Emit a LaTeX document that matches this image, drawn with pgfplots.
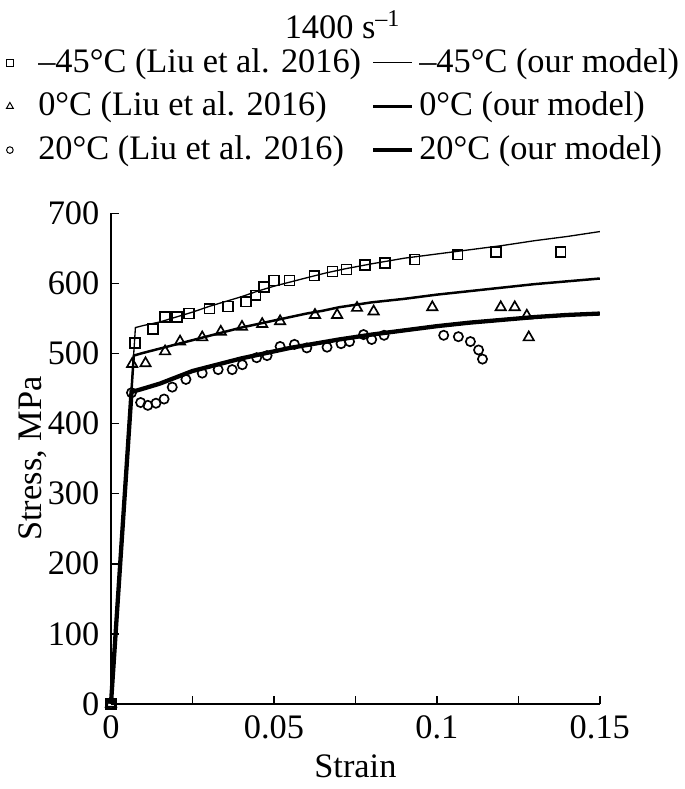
\documentclass[border=0pt]{standalone}
\usepackage{fontspec}
\setmainfont{Liberation Serif}
\usepackage{pgfplots}
\pgfplotsset{compat=1.18}
\pgfplotsset{
    legmark/.style={legend image code/.code={%
        \path[draw=none] (0pt,0pt) (8.5pt,0pt);
        \draw[##1, mark size=#1, line width=0.3pt] plot coordinates {(1.4pt,0pt)};}},
    legline/.style={legend image code/.code={%
        \draw[##1] (0pt,0pt) -- (11.8pt,0pt);}},
}

\begin{document}
\begin{tikzpicture}
\begin{axis}[
    scale only axis,
    width=148pt, height=148.5pt,
    xmin=0, xmax=0.15,
    ymin=0, ymax=700,
    xtick={0,0.05,0.1,0.15},
    xticklabels={0,0.05,0.1,0.15},
    minor xtick={0.025,0.075,0.125},
    ytick={0,100,...,700},
    axis x line*=bottom,
    axis y line*=left,
    axis line style={-, line width=0.5pt},
    tick style={line width=0.5pt, black},
    major tick length=2.5pt,
    minor tick length=2.5pt,
    tick align=inside,
    /pgf/number format/assume math mode=true,
    font=\fontsize{10.4}{12.5}\selectfont,
    ticklabel style={font=\fontsize{10.4}{12.5}\selectfont},
    xlabel={Strain},
    ylabel={Stress, MPa},
    xlabel style={yshift=2pt},
    ylabel style={yshift=-6.5pt},
    clip=false,
    legend columns=2,
    legend cell align=left,
    legend style={draw=none, fill=none,
        at={(rel axis cs:0,1)}, anchor=south west,
        xshift=-32.2pt, yshift=10.6pt,
        inner xsep=0pt,
        font=\fontsize{10.4}{12.5}\selectfont,
        nodes={inner xsep=1.5pt},
        /tikz/every even column/.append style={column sep=1.5pt},
        row sep=0.5pt},
]

% experimental data (Liu et al. 2016)
\addplot[only marks, mark=square, mark size=1.5pt, line width=0.5pt, legmark=1.1pt]
coordinates {
(0,0)(0.0073,515)(0.0129,535)(0.0166,552)(0.0203,552)(0.0239,557)(0.0302,564)
(0.0359,567)(0.0414,574)(0.0444,583)(0.0469,595)(0.0501,604)(0.0548,604)
(0.0624,611)(0.0680,617)(0.0723,620)(0.0780,626)(0.0841,629)(0.0932,634)
(0.1064,641)(0.1181,645)(0.1380,645)
};
\addlegendentry{–45°C (Liu et al. 2016)}

\addplot[line width=0.4pt, black, legline] coordinates {
(0,0)(0.0075,537)(0.010,540)(0.015,545)(0.020,552)(0.025,559)(0.030,567)
(0.035,574)(0.040,581)(0.045,589)(0.050,596)(0.055,602)(0.060,608)
(0.066,615)(0.072,621)(0.080,628)(0.090,636)(0.100,642)(0.110,648)
(0.120,654)(0.130,661)(0.140,667)(0.150,674)
};
\addlegendentry{–45°C (our model)}

\addplot[only marks, mark=triangle, mark size=1.8pt, line width=0.5pt, legmark=1.2pt]
coordinates {
(0,0)(0.0065,485)(0.0106,486)(0.0166,503)(0.0212,517)(0.0280,523)(0.0337,531)
(0.0402,538)(0.0464,542)(0.0519,546)(0.0626,555)(0.0694,555)(0.0755,565)
(0.0806,560)(0.0986,566)(0.1196,566)(0.1239,566)(0.1276,554)(0.1282,523)
};
\addlegendentry{0°C (Liu et al. 2016)}

\addplot[line width=0.75pt, black, legline] coordinates {
(0,0)(0.0070,497)(0.010,501)(0.015,507)(0.020,513)(0.025,519)(0.030,525)
(0.035,531)(0.040,537)(0.045,542)(0.050,547)(0.055,552)(0.060,557)
(0.065,561)(0.070,566)(0.080,573)(0.090,578)(0.100,584)(0.110,589)
(0.120,594)(0.130,599)(0.140,603)(0.150,607)
};
\addlegendentry{0°C (our model)}

\addplot[only marks, mark=o, mark size=1.4pt, line width=0.5pt, legmark=1.0pt]
coordinates {
(0,0)(0.0063,444)(0.0091,430)(0.0113,426)(0.0138,429)(0.0163,435)(0.0188,452)
(0.0230,463)(0.0280,472)(0.0329,477)(0.0372,477)(0.0403,484)(0.0447,494)
(0.0479,497)(0.0519,510)(0.0563,513)(0.0601,508)(0.0663,509)(0.0706,514)
(0.0732,517)(0.0775,527)(0.0800,520)(0.0838,526)(0.1021,526)(0.1066,524)
(0.1103,517)(0.1128,505)(0.1140,492)
};
\addlegendentry{20°C (Liu et al. 2016)}

\addplot[line width=1.3pt, black, legline] coordinates {
(0,0)(0.0063,445)(0.010,450)(0.015,457)(0.020,466)(0.025,475)(0.030,481)
(0.035,487)(0.040,493)(0.045,498)(0.050,503)(0.055,508)(0.060,512)
(0.065,516)(0.070,520)(0.080,527)(0.090,533)(0.100,539)(0.110,544)
(0.120,548)(0.130,552)(0.140,555)(0.150,557)
};
\addlegendentry{20°C (our model)}

\node[font=\fontsize{10.4}{12.5}\selectfont] at (rel axis cs:0.4746,1) [yshift=57pt] {1400 s\textsuperscript{–1}};
% white margin on the left, as in the reference
\path (rel axis cs:0,0) ++(-33.6pt,0pt);
\end{axis}
\end{tikzpicture}
\end{document}
